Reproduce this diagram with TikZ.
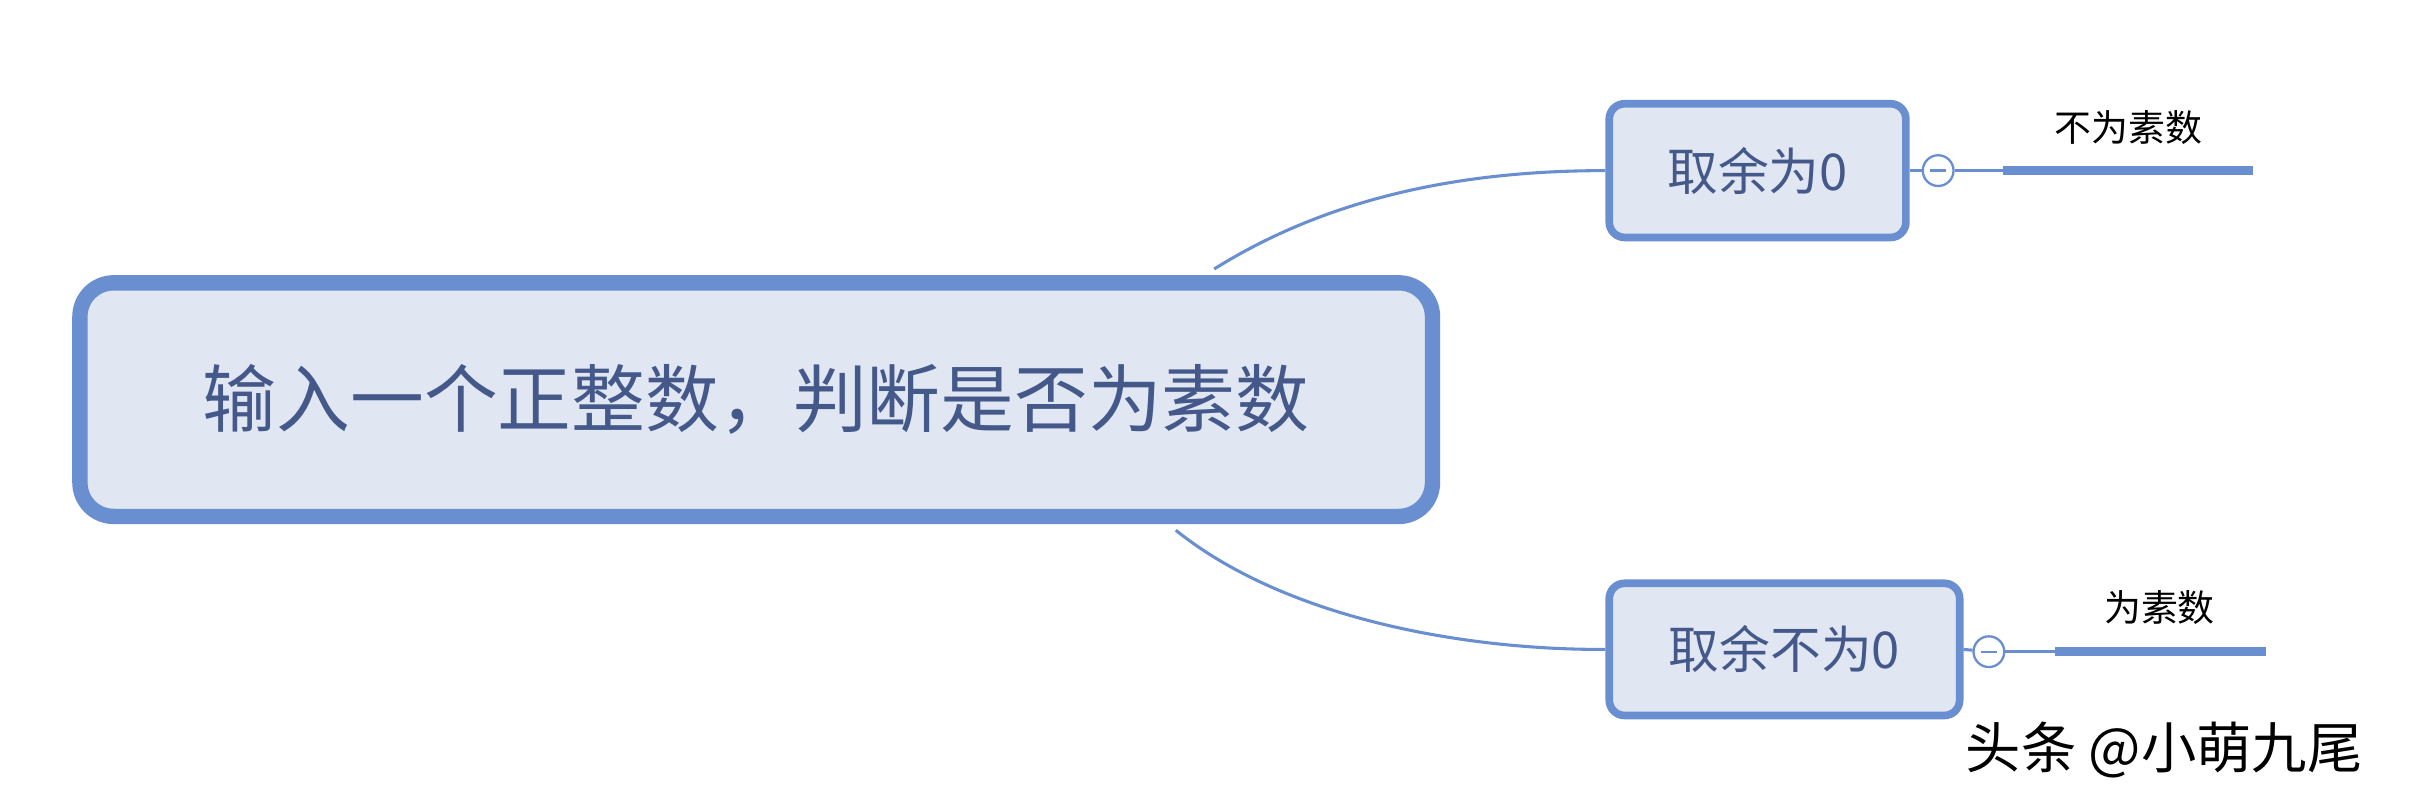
\documentclass[tikz,border=0pt]{standalone}
\usepackage{fontspec}
\newfontfamily\cjk{Noto Sans CJK SC}
\definecolor{bd}{HTML}{6A8FD0}
\definecolor{fl}{HTML}{E0E6F2}
\definecolor{tx}{HTML}{44598A}
\begin{document}
\begin{tikzpicture}[x=1pt,y=-1pt,
  box/.style={draw=bd,fill=fl,rounded corners=10pt,line width=5pt,text=tx,font=\cjk\fontsize{33}{38}\selectfont,inner sep=0pt},
  conn/.style={draw=bd,line width=2pt},
  lab/.style={font=\cjk\fontsize{24}{28}\selectfont,text=black},
  tog/.style={circle,draw=bd,fill=white,line width=1.5pt,minimum size=20pt,inner sep=0pt}]
\useasboundingbox (0,0) rectangle (1568,523);
\node[box,line width=10pt,rounded corners=22pt,minimum width=880pt,minimum height=152pt,font=\cjk\fontsize{48}{54}\selectfont] (m) at (492,260) {输入一个正整数，判断是否为素数};
\node[box,minimum width=193pt,minimum height=87pt] (a) at (1143.5,111) {取余为0};
\node[box,minimum width=228pt,minimum height=86pt] (b) at (1161,422.5) {取余不为0};
\coordinate (ms) at (790,175);
\coordinate (mt) at (765,345);
\draw[conn] (ms) .. controls (870,125) and (960,111) .. (a.west);
\draw[conn] (mt) .. controls (840,405) and (960,423) .. (b.west);
\node[tog] (ta) at (1261,111) {};
\draw[bd,line width=1.5pt] (1256,111) -- (1266,111);
\node[tog] (tb) at (1294,424) {};
\draw[bd,line width=1.5pt] (1289,424) -- (1299,424);
\coordinate (ua) at (1303,111); \coordinate (ua2) at (1466,111);
\coordinate (ub) at (1337,424); \coordinate (ub2) at (1474,424);
\draw[conn] (a.east) -- (ta); \draw[conn] (ta) -- (ua);
\draw[conn] (b.east) -- (tb); \draw[conn] (tb) -- (ub);
\draw[bd,line width=6pt] (ua) -- (ua2);
\draw[bd,line width=6pt] (ub) -- (ub2);
\node[lab] (la) at (1385,83) {不为素数};
\node[lab] (lb) at (1405,395) {为素数};
\node[font=\cjk\fontsize{36}{40}\selectfont,text=black] (w) at (1408,488) {头条 @小萌九尾};
\end{tikzpicture}
\end{document}
